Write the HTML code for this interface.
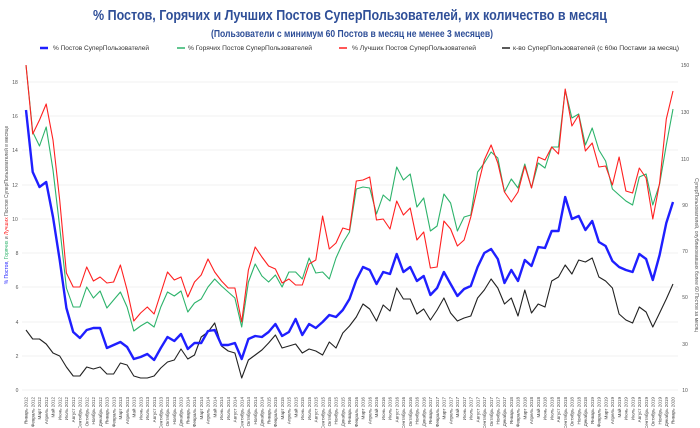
<!DOCTYPE html>
<html><head><meta charset="utf-8"><style>
body{margin:0;background:#fff}
svg{display:block;font-family:"Liberation Sans",sans-serif}
</style></head><body>
<svg id="s" width="700" height="428" viewBox="0 0 700 428" xmlns="http://www.w3.org/2000/svg">
<rect width="700" height="428" fill="#fff"/>
<text x="350" y="20" text-anchor="middle" font-size="15" font-weight="bold" fill="#2f4f98" textLength="514" lengthAdjust="spacingAndGlyphs">% Постов, Горячих и Лучших Постов СуперПользователей, их количество в месяц</text>
<text x="352" y="37" text-anchor="middle" font-size="10" font-weight="bold" fill="#2f4f98" textLength="282" lengthAdjust="spacingAndGlyphs">(Пользователи с минимум 60 Постов в месяц не менее 3 месяцев)</text>
<g font-size="6" fill="#333">
<line x1="40" y1="48" x2="48" y2="48" stroke="#1f1fff" stroke-width="2.5"/>
<text x="53" y="50" textLength="96" lengthAdjust="spacingAndGlyphs">% Постов СуперПользователей</text>
<line x1="177" y1="48" x2="185" y2="48" stroke="#2db36b" stroke-width="1.5"/>
<text x="188" y="50" textLength="124" lengthAdjust="spacingAndGlyphs">% Горячих Постов СуперПользователей</text>
<line x1="339" y1="48" x2="347" y2="48" stroke="#ff2020" stroke-width="1.5"/>
<text x="352" y="50" textLength="124" lengthAdjust="spacingAndGlyphs">% Лучших Постов СуперПользователей</text>
<line x1="502" y1="48" x2="510" y2="48" stroke="#222" stroke-width="1.5"/>
<text x="513" y="50" textLength="166" lengthAdjust="spacingAndGlyphs">к-во СуперПользователей (с 60ю Постами за месяц)</text>
</g>
<g stroke="#ececec" stroke-width="0.8">
<line x1="22" x2="678" y1="390" y2="390"/><line x1="22" x2="678" y1="356" y2="356"/>
<line x1="22" x2="678" y1="322" y2="322"/><line x1="22" x2="678" y1="287" y2="287"/>
<line x1="22" x2="678" y1="253" y2="253"/><line x1="22" x2="678" y1="219" y2="219"/>
<line x1="22" x2="678" y1="185" y2="185"/><line x1="22" x2="678" y1="150" y2="150"/>
<line x1="22" x2="678" y1="116" y2="116"/><line x1="22" x2="678" y1="82" y2="82"/>
</g>
<g font-size="5" fill="#555" text-anchor="middle">
<text x="17" y="392">0</text><text x="17" y="358">2</text><text x="17" y="324">4</text>
<text x="17" y="289">6</text><text x="17" y="255">8</text><text x="15" y="221">10</text>
<text x="15" y="187">12</text><text x="15" y="152">14</text><text x="15" y="118">16</text>
<text x="15" y="84">18</text>
<text x="685" y="392">10</text><text x="685" y="346">30</text><text x="685" y="299">50</text>
<text x="685" y="253">70</text><text x="685" y="207">90</text><text x="685" y="161">110</text>
<text x="685" y="114">130</text><text x="685" y="67">150</text>
</g>
<text transform="translate(8,205) rotate(-90)" font-size="5" text-anchor="middle" fill="#555"><tspan fill="#1f1fff">% Постов</tspan>, <tspan fill="#2db36b">Горячих</tspan> и <tspan fill="#ff2020">Лучших</tspan> Постов СуперПользователей в месяце</text>
<text transform="translate(695,255) rotate(90)" font-size="5" text-anchor="middle" fill="#555">СуперПользователей, опубликовавших более 60 Постов за месяц</text>
<g id="lines" fill="none" stroke-linejoin="round"></g>
<g id="lbl" font-size="4.6" fill="#444" text-anchor="end"></g>
</svg>
<script>
var B=[110,172,187,182,217,260,308,332,338,330,328,328,348,345,342,347,359,357,354,360,348,337,341,334,349,343,343,331,330,345,345,343,359,339,336,337,332,324,336,332,319,335,324,328,322,315,317,310,299,280,267,270,284,272,274,254,272,267,281,276,295,288,272,284,296,289,286,267,253,249,259,283,270,281,260,266,247,248,231,231,197,219,216,230,221,242,246,261,267,270,272,254,259,280,255,223,202];
var G=[65,132,146,127,170,227,288,307,307,287,298,291,308,300,292,307,331,326,322,327,307,292,296,291,312,303,299,287,279,286,292,298,327,282,264,276,282,275,287,272,272,279,258,273,272,279,258,243,232,189,187,188,214,195,201,167,180,174,207,198,231,226,194,203,231,217,215,172,163,152,158,192,179,188,164,188,163,168,147,147,90,118,114,145,128,150,161,189,195,201,205,177,174,205,184,145,109];
var R=[65,134,120,104,140,200,273,287,287,267,281,277,283,282,265,290,321,313,307,314,293,272,280,277,297,282,275,259,272,281,288,288,322,270,247,257,266,269,283,279,285,285,264,260,216,249,243,228,230,181,180,177,220,219,229,201,215,208,240,232,268,267,221,229,246,240,217,187,160,145,163,192,202,192,166,188,157,160,147,154,89,126,115,151,143,167,166,185,157,191,193,168,178,219,183,119,91];
var K=[330,339,339,344,353,356,367,376,376,367,369,367,374,374,363,365,376,378,378,376,368,362,360,349,359,355,337,332,323,346,351,353,378,360,355,350,343,335,348,346,344,353,349,351,355,342,348,333,326,317,304,309,321,305,311,288,299,299,314,309,320,310,298,313,321,318,316,298,290,279,288,304,298,316,290,313,304,307,281,277,265,274,260,262,258,277,281,288,314,320,323,307,312,327,313,299,284];
function X(i){return 26+6.74*i}
function pl(a,c,w){var p=a.map(function(y,i){return X(i).toFixed(1)+","+y}).join(" ");
var e=document.createElementNS("http://www.w3.org/2000/svg","polyline");e.setAttribute("points",p);e.setAttribute("stroke",c);e.setAttribute("stroke-width",w);document.getElementById("lines").appendChild(e);}
pl(K,"#222",1.1);pl(G,"#2db36b",1.1);pl(R,"#ff2020",1.1);pl(B,"#1f1fff",2.4);
var M=["Январь","Февраль","Март","Апрель","Май","Июнь","Июль","Август","Сентябрь","Октябрь","Ноябрь","Декабрь"];
var g=document.getElementById("lbl");
for(var i=0;i<97;i++){var t=document.createElementNS("http://www.w3.org/2000/svg","text");
t.setAttribute("transform","translate("+(X(i)+1.7).toFixed(1)+",397) rotate(-90)");
t.textContent=M[i%12]+" "+(2012+Math.floor(i/12));g.appendChild(t);}
</script>
</body></html>
